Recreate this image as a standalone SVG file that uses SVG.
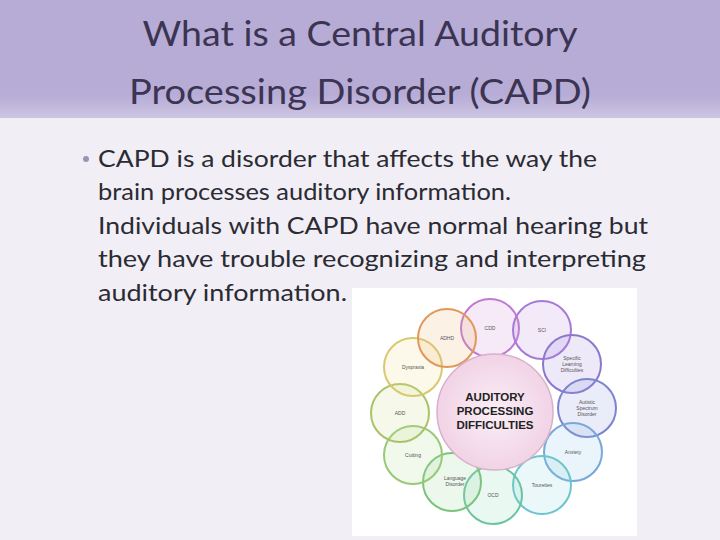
<svg xmlns="http://www.w3.org/2000/svg" width="720" height="540" viewBox="0 0 720 540">
<defs>
<radialGradient id="cg"><stop offset="0" stop-color="#fbeef6"/><stop offset="1" stop-color="#f1d3e6"/></radialGradient>
<linearGradient id="hg" x1="0" y1="0" x2="0" y2="1"><stop offset="0.8" stop-color="#b6acd6"/><stop offset="1" stop-color="#cdc5e3"/></linearGradient>
<style>
.t{font-family:"Lato","Open Sans",sans-serif;font-size:35px;fill:#3b3452;text-anchor:middle}
.b{font-family:"Lato","Open Sans",sans-serif;font-size:24px;fill:#2b2b33}
.o{stroke-width:2;fill-opacity:0.18}
.s{font-family:"Liberation Sans",sans-serif;font-size:5px;fill:#555;text-anchor:middle}
</style>
</defs>
<rect width="720" height="540" fill="#f1eef5"/>
<rect width="720" height="118" fill="url(#hg)"/>
<text class="t" x="360" y="46" textLength="435" lengthAdjust="spacingAndGlyphs">What is a Central Auditory</text>
<text class="t" x="360" y="104" textLength="462" lengthAdjust="spacingAndGlyphs">Processing Disorder (CAPD)</text>
<circle cx="86" cy="159" r="3" fill="#9a93b4"/>
<text class="b" x="98" y="167" textLength="499" lengthAdjust="spacingAndGlyphs">CAPD is a disorder that affects the way the</text>
<text class="b" x="98" y="200" textLength="413" lengthAdjust="spacingAndGlyphs">brain processes auditory information.</text>
<text class="b" x="98" y="234" textLength="550" lengthAdjust="spacingAndGlyphs">Individuals with CAPD have normal hearing but</text>
<text class="b" x="98" y="267" textLength="548" lengthAdjust="spacingAndGlyphs">they have trouble recognizing and interpreting</text>
<text class="b" x="98" y="301" textLength="249" lengthAdjust="spacingAndGlyphs">auditory information.</text>
<g id="diagram">
<rect x="352" y="288" width="285" height="248" fill="#ffffff"/>
<g id="outer">
<circle class="o" cx="490" cy="328" r="29" fill="#d08ad8" stroke="#c07ad0"/>
<circle class="o" cx="542" cy="330" r="29" fill="#b88ae0" stroke="#a77ad6"/>
<circle class="o" cx="572" cy="364" r="29" fill="#9a86dc" stroke="#8a78cc"/>
<circle class="o" cx="587" cy="408" r="29" fill="#8c94e0" stroke="#7c84d0"/>
<circle class="o" cx="573" cy="452" r="29" fill="#8cc0e8" stroke="#76a8d8"/>
<circle class="o" cx="542" cy="485" r="29" fill="#8ad8e0" stroke="#6cc4cc"/>
<circle class="o" cx="493" cy="495" r="29" fill="#8ad8b8" stroke="#6cc49e"/>
<circle class="o" cx="452" cy="482" r="29" fill="#9ad89a" stroke="#7cc47c"/>
<circle class="o" cx="413" cy="455" r="29" fill="#b4dc94" stroke="#98c878"/>
<circle class="o" cx="400" cy="413" r="29" fill="#cce08a" stroke="#a8c468"/>
<circle class="o" cx="413" cy="367" r="29" fill="#ece08a" stroke="#d8c870"/>
<circle class="o" cx="447" cy="338" r="29" fill="#f0b070" stroke="#e09858"/>
</g>
<g id="center">
<circle cx="495" cy="412" r="58" fill="url(#cg)" stroke="#d8b0cc" stroke-width="1.5"/>
<text x="495" y="401" font-family="'Liberation Sans',sans-serif" font-size="11.5" font-weight="bold" fill="#222" text-anchor="middle">AUDITORY</text>
<text x="495" y="415" font-family="'Liberation Sans',sans-serif" font-size="11.5" font-weight="bold" fill="#222" text-anchor="middle">PROCESSING</text>
<text x="495" y="429" font-family="'Liberation Sans',sans-serif" font-size="11.5" font-weight="bold" fill="#222" text-anchor="middle">DIFFICULTIES</text>
</g>
<g id="labels">
<text class="s" x="490" y="330">CDD</text>
<text class="s" x="542" y="332">SCI</text>
<text class="s" x="572" y="360">Specific</text><text class="s" x="572" y="366">Learning</text><text class="s" x="572" y="372">Difficulties</text>
<text class="s" x="587" y="404">Autistic</text><text class="s" x="587" y="410">Spectrum</text><text class="s" x="587" y="416">Disorder</text>
<text class="s" x="573" y="454">Anxiety</text>
<text class="s" x="542" y="487">Tourettes</text>
<text class="s" x="493" y="497">OCD</text>
<text class="s" x="455" y="480">Language</text><text class="s" x="455" y="486">Disorder</text>
<text class="s" x="413" y="457">Cutting</text>
<text class="s" x="400" y="415">ADD</text>
<text class="s" x="413" y="369">Dyspraxia</text>
<text class="s" x="447" y="340">ADHD</text>
</g>
</g>
</svg>
